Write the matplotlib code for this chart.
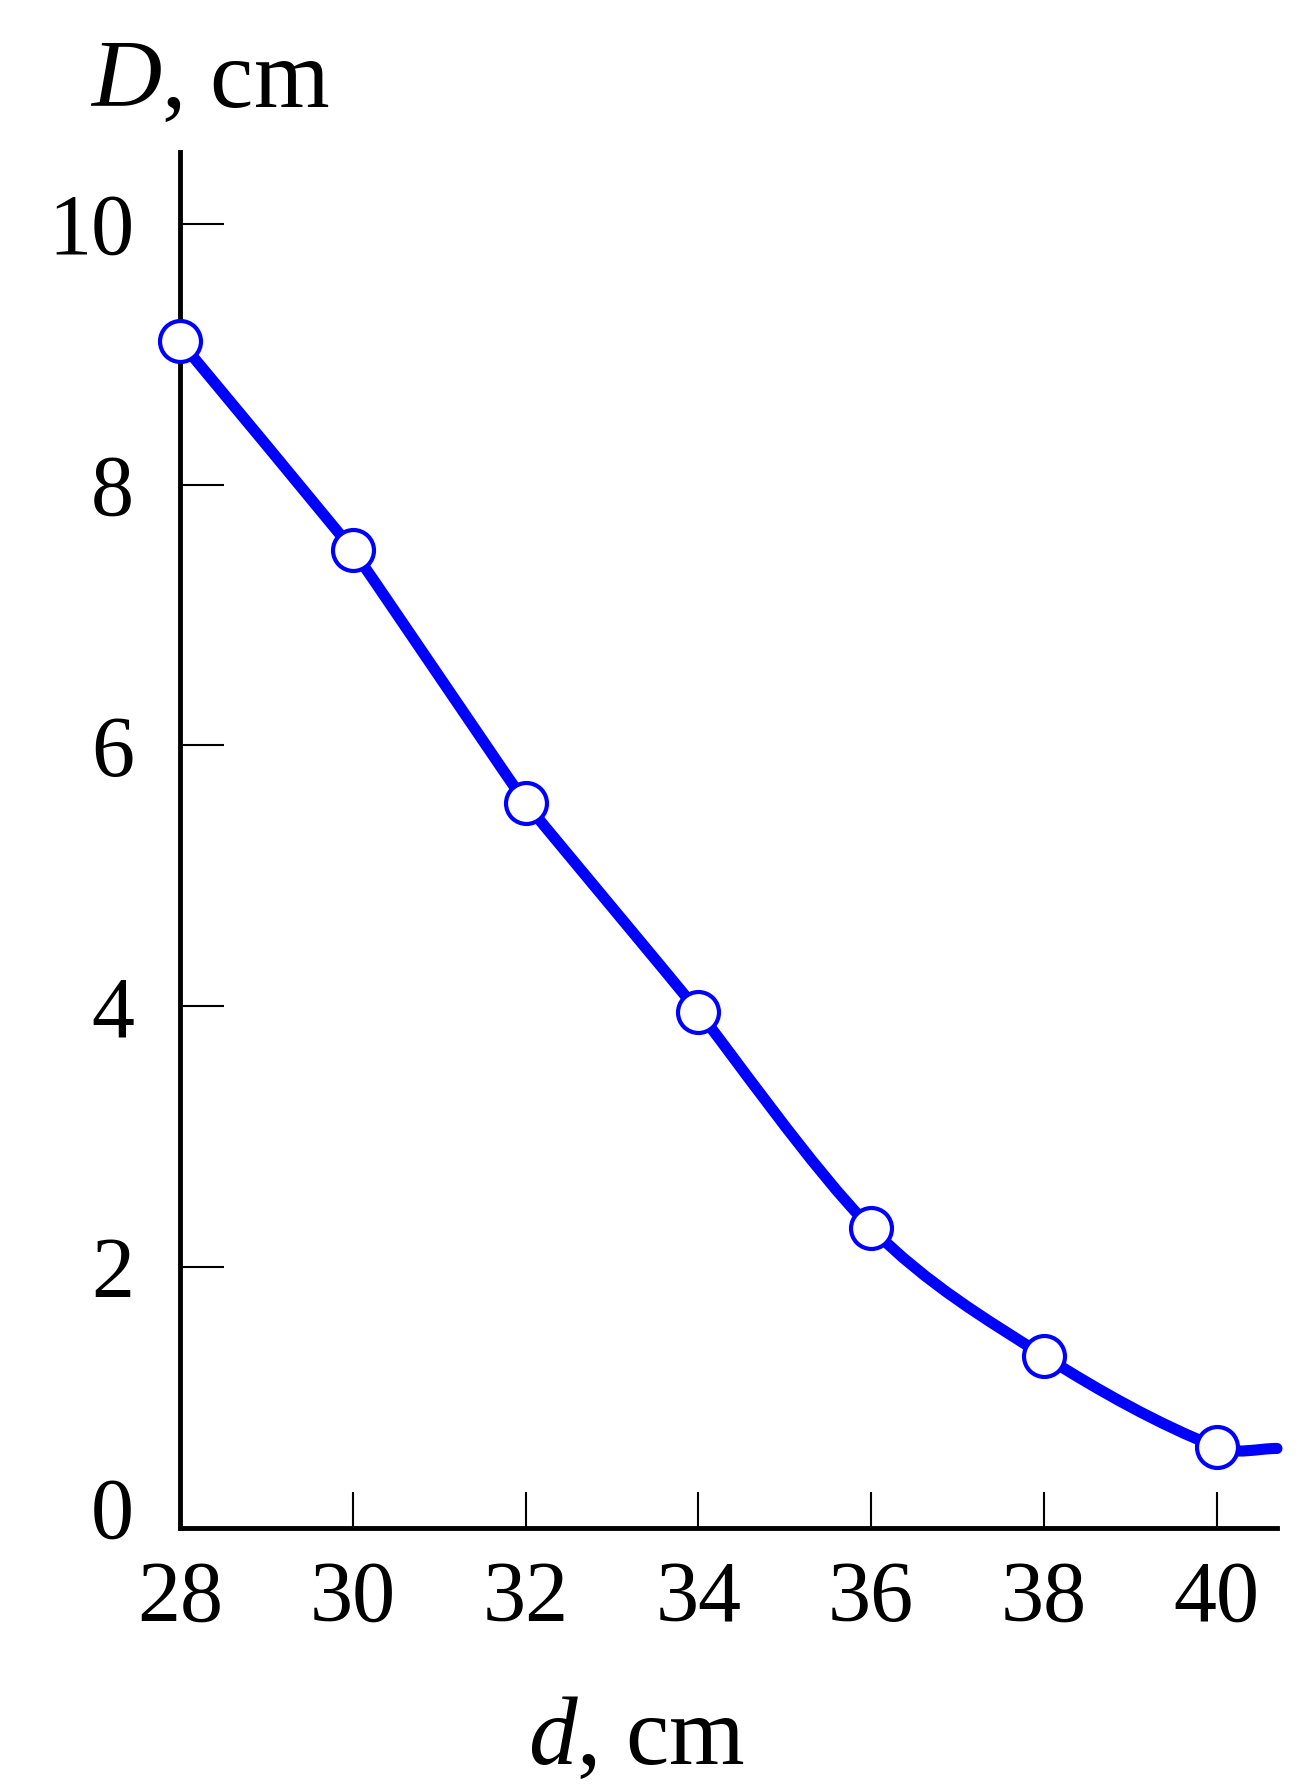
import numpy as np
import matplotlib
matplotlib.use("Agg")
import matplotlib.pyplot as plt
import matplotlib.transforms as mtransforms
from matplotlib.path import Path
from matplotlib.patches import PathPatch

plt.rcParams['font.family'] = ['Liberation Serif', 'DejaVu Serif']
plt.rcParams['mathtext.fontset'] = 'custom'
plt.rcParams['mathtext.rm'] = 'Liberation Serif'
plt.rcParams['mathtext.it'] = 'Liberation Serif:italic'

# measured points
d_pts = [28, 30, 32, 34, 36, 38, 40]
D_pts = [9.1, 7.5, 5.56, 3.96, 2.3, 1.32, 0.62]
# the drawn curve runs a little past the last point
d_end = 40.7
D_end = 0.61

x_ticks = [28, 30, 32, 34, 36, 38, 40]
y_ticks = [0, 2, 4, 6, 8, 10]

W, H = 1316, 1792
fig = plt.figure(figsize=(W / 100, H / 100), dpi=100)
ax = fig.add_axes([180 / W, (H - 1528) / H, (1277 - 180) / W, (1528 - 152) / H])
ax.set_xlim(28, 40.7)
ax.set_ylim(0, 10.55)

# smooth curve through the points (cubic Hermite drawn as Bezier segments)
xs = np.array(list(d_pts) + [d_end], dtype=float)
ys = np.array(list(D_pts) + [D_end], dtype=float)
n = len(xs)
m = np.zeros(n)
m[0] = (ys[1] - ys[0]) / (xs[1] - xs[0])
m[-1] = 0.0
for i in range(1, n - 1):
    m[i] = (ys[i + 1] - ys[i - 1]) / (xs[i + 1] - xs[i - 1])
# how far the handles reach: short handles -> nearly straight pieces
k = np.where(xs < 34, 0.1, np.where(xs < 35, 0.5, 1.0))
verts = [(xs[0], ys[0])]
codes = [Path.MOVETO]
for i in range(n - 1):
    h = xs[i + 1] - xs[i]
    a = k[i] * h / 3
    b = k[i + 1] * h / 3
    c1 = (xs[i] + a, ys[i] + m[i] * a)
    c2 = (xs[i + 1] - b, ys[i + 1] - m[i + 1] * b)
    verts += [c1, c2, (xs[i + 1], ys[i + 1])]
    codes += [Path.CURVE4] * 3
curve = PathPatch(Path(verts, codes), facecolor='none', edgecolor='#0000ff',
                  lw=8, capstyle='round', joinstyle='round', zorder=3, clip_on=False)
ax.add_patch(curve)

ax.plot(d_pts, D_pts, linestyle='none', marker='o', markersize=29.5,
        markerfacecolor='white', markeredgecolor='#0000ff',
        markeredgewidth=3, zorder=4, clip_on=False)

for s in ['top', 'right']:
    ax.spines[s].set_visible(False)
for s in ['left', 'bottom']:
    ax.spines[s].set_linewidth(3.5)

ax.set_xticks(x_ticks)
ax.set_yticks(y_ticks)
ax.tick_params(direction='in', width=1.5, labelsize=62)
ax.tick_params(axis='x', length=26, pad=23.5)
ax.tick_params(axis='y', length=32, pad=33)

# the "0" on the y axis sits a bit higher than its tick
lab0 = ax.get_yticklabels()[0]
lab0.set_transform(lab0.get_transform() +
                   mtransforms.ScaledTranslation(0, 0.21, fig.dpi_scale_trans))

fig.text(90 / W, 1 - 107 / H, r'$\mathit{D}$, cm', fontsize=70,
         ha='left', va='baseline')
fig.text(636 / W, 1 - 1764 / H, r'$\mathit{d}$, cm', fontsize=70,
         ha='center', va='baseline')

fig.savefig('out.png', dpi=100)
